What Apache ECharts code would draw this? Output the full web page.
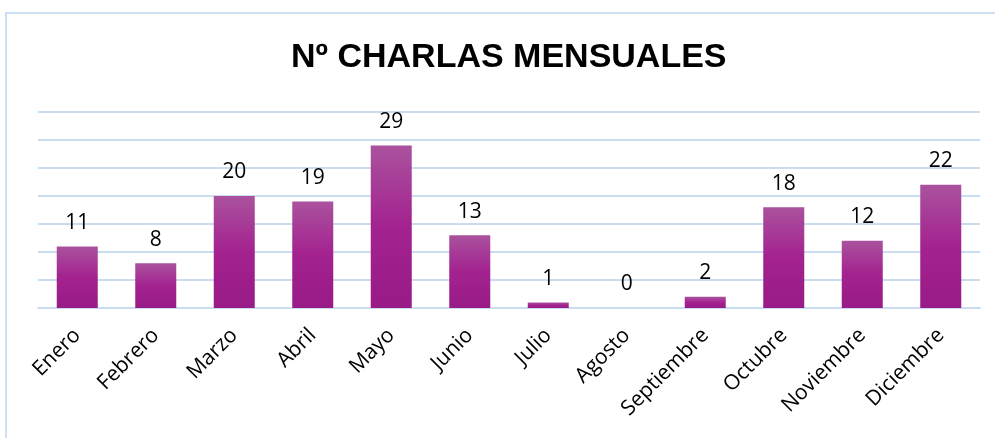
<!DOCTYPE html>
<html>
<head>
<meta charset="utf-8">
<script src="https://cdn.jsdelivr.net/npm/echarts@6/dist/echarts.min.js"></script>
<style>
  html, body { margin: 0; padding: 0; background: #fff; }
  #main { width: 995px; height: 438px; }
</style>
</head>
<body>
<div id="main"></div>
<script>
var myChart = echarts.init(document.getElementById('main'));

let meses = ['Enero', 'Febrero', 'Marzo', 'Abril', 'Mayo', 'Junio', 'Julio',
             'Agosto', 'Septiembre', 'Octubre', 'Noviembre', 'Diciembre'],
    charlas = [11, 8, 20, 19, 29, 13, 1, 0, 2, 18, 12, 22];

var option = {
  backgroundColor: '#fff',
  textStyle: { fontFamily: 'Open Sans, Liberation Sans, sans-serif' },
  graphic: [{
    type: 'rect',
    shape: { x: 6, y: 13, width: 1200, height: 600 },
    style: { fill: 'none', stroke: '#cddff2', lineWidth: 2 },
    silent: true
  }],
  title: {
    text: 'Nº CHARLAS MENSUALES',
    left: 286,
    top: 36,
    textStyle: { fontFamily: 'Liberation Sans, Arial, sans-serif', fontSize: 34, fontWeight: 'bold', color: '#000' }
  },
  grid: { left: 38, right: 15, top: 112, bottom: 130 },
  xAxis: {
    type: 'category',
    data: meses,
    axisLine: { lineStyle: { color: '#c9dcf0', width: 2 } },
    axisTick: { show: false },
    axisLabel: { rotate: 45, fontSize: 21, color: '#000', margin: 24, interval: 0 }
  },
  yAxis: {
    type: 'value',
    min: 0,
    max: 35,
    interval: 5,
    axisLabel: { show: false },
    axisLine: { show: false },
    axisTick: { show: false },
    splitLine: { lineStyle: { color: '#c9dcf0', width: 2 } }
  },
  series: [{
    type: 'bar',
    data: charlas,
    barWidth: 41,
    itemStyle: {
      color: new echarts.graphic.LinearGradient(0, 0, 0, 1, [
        { offset: 0, color: '#aa529e' },
        { offset: 0.5, color: '#a3228f' },
        { offset: 1, color: '#981b87' }
      ])
    },
    label: {
      show: true,
      position: 'top',
      distance: 13,
      fontSize: 21,
      color: '#000'
    }
  }]
};
myChart.setOption(option);
</script>
</body>
</html>
